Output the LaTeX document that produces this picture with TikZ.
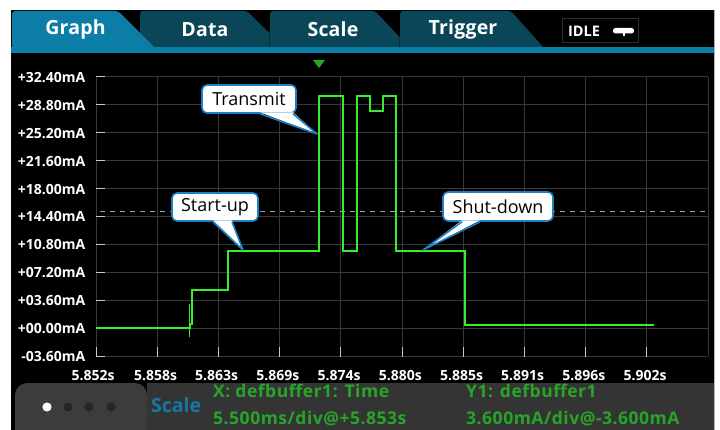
\documentclass[tikz,border=0pt]{standalone}
\usepackage{fontspec}
\setmainfont{Open Sans}
\newfontfamily\infofont[LetterSpace=3]{Open Sans}
\newfontfamily\tabfont[LetterSpace=1]{Open Sans}
\usetikzlibrary{calc}

\definecolor{tabblue}{RGB}{12,125,166}
\definecolor{tabdark}{RGB}{11,70,88}
\definecolor{tabshade}{RGB}{5,42,54}
\definecolor{gridgray}{RGB}{56,56,56}
\definecolor{tickgray}{RGB}{200,200,200}
\definecolor{trace}{RGB}{58,236,48}
\definecolor{infogreen}{RGB}{40,165,40}
\definecolor{scaleblue}{RGB}{22,120,160}
\definecolor{callblue}{RGB}{28,128,200}
\definecolor{panelgray}{RGB}{52,52,52}
\definecolor{panelleft}{RGB}{60,60,60}

\tikzset{
  tabtext/.style={text=white,font=\tabfont\fontsize{19.5}{21}\selectfont\bfseries},
  ylab/.style={anchor=east,text=white,inner sep=0pt,font=\fontsize{14}{15}\selectfont\bfseries},
  xlab/.style={anchor=center,text=white,inner sep=0pt,font=\fontsize{14}{15}\selectfont\bfseries},
  infotext/.style={anchor=base west,inner sep=0pt,text=infogreen,font=\infofont\fontsize{17.5}{19}\selectfont\bfseries},
  callout/.style={draw=callblue,line width=1.6pt,fill=white,rounded corners=5pt,
    minimum height=28pt,inner sep=0pt,font=\fontsize{18}{19}\selectfont},
  tipline/.style={draw=callblue,line width=1.6pt,line join=round},
  gridline/.style={draw=gridgray,line width=1pt},
  tracethin/.style={draw=trace,line width=1.3pt},
  tracethick/.style={draw=trace,line width=2.6pt},
}

\begin{document}
\begin{tikzpicture}[x=1pt,y=-1pt]
\useasboundingbox[fill=white] (0,0) rectangle (720,430);

% screen
\fill[black] (11,10) rectangle (714,430);
\draw[gray!60,line width=0.6pt] (714,10) -- (714,430);

% tab bar: inactive tabs first, active tab on top
\fill[tabdark,rounded corners=3pt] (140,47) -- (140,11) -- (247,11) [sharp corners]-- (283,47) -- cycle;
\fill[tabdark,rounded corners=3pt] (270,47) -- (270,11) -- (375,11) [sharp corners]-- (409,47) -- cycle;
\draw[tabshade,line width=1.2pt] (269.5,31) -- (269.5,47);
\fill[tabdark,rounded corners=3pt] (400,47) -- (400,11) -- (511,11) [sharp corners]-- (543,47) -- cycle;
\draw[tabshade,line width=1.2pt] (399.5,37) -- (399.5,47);
\fill[tabblue,rounded corners=3pt] (12,47) -- (12,11) -- (118,11) [sharp corners]-- (154,47) -- cycle;
\fill[tabblue] (11,47) rectangle (714,53);
\node[tabtext] (tGraph) at (75.5,29.5) {Graph};
\node[tabtext] (tData) at (205,29.5) {Data};
\node[tabtext] (tScale) at (333,29.5) {Scale};
\node[tabtext] (tTrig) at (463,29.5) {Trigger};

% idle indicator
\node[draw=gray!35!black,line width=1pt,fill=black,minimum width=76pt,minimum height=24pt,inner sep=0pt] (idle) at (600,31) {};
\node[text=white,inner sep=0pt,font=\fontsize{14.5}{15}\selectfont\bfseries] (idletxt) at (584,31) {IDLE};
\fill[white,rounded corners=2.5pt] (613,28) rectangle (634,33.5);
\fill[white] (622.5,33) rectangle (624.5,36);

% trigger marker
\fill[infogreen] (313,60) -- (325,60) -- (319,68) -- cycle;

% grid
\foreach \k in {0,...,10} \draw[gridline] (96,77+27.9*\k) -- (708,77+27.9*\k);
\foreach \k in {0,...,10} \draw[gridline] (96+61.2*\k,77) -- (96+61.2*\k,356);
\foreach \k in {0,...,9} \draw[tickgray,line width=1pt] (96+61.2*\k,347) -- (96+61.2*\k,356.5);

% y axis ticks and labels
\foreach \lab [count=\k from 0] in {+32.40mA,+28.80mA,+25.20mA,+21.60mA,+18.00mA,+14.40mA,+10.80mA,+07.20mA,+03.60mA,+00.00mA,-03.60mA}{
  \draw[tickgray,line width=1pt] (96,77+27.9*\k) -- (105,77+27.9*\k);
  \node[ylab] (yl\k) at (85.5,77.5+27.9*\k) {\lab};
}

% x labels
\foreach \xx/\lab [count=\k from 0] in {93/5.852s,155.5/5.858s,216.7/5.863s,277.9/5.869s,339.1/5.874s,400.3/5.880s,461.5/5.885s,522.7/5.891s,583.9/5.896s,645.1/5.902s}{
  \node[xlab] (xl\k) at (\xx,376) {\lab};
}

% threshold line
\draw[gray!75,line width=1pt,dash pattern=on 5pt off 5pt] (100,212) -- (708,212);

% measured current trace
\draw[tracethin] (96,328) -- (190,328) -- (190,324) -- (192,324) -- (192,290) -- (228,290)
  -- (228,251) -- (319,251) -- (319,96) -- (343,96) -- (343,251) -- (357,251) -- (357,96)
  -- (370,96) -- (370,111) -- (383,111) -- (383,96) -- (396,96) -- (396,251) -- (465,251)
  -- (465,325) -- (654,325);
\draw[trace,line width=1pt] (189,304) -- (189,337);
\draw[trace,line width=2pt] (192,324) -- (192,290);
\draw[trace,line width=2pt] (228,290) -- (228,251);
\draw[trace,line width=2pt] (465,251) -- (465,325);
\foreach \a/\b/\y in {96/190/328,192/228/290,228/319/251,319/343/96,343/357/251,357/370/96,370/383/111,383/396/96,396/465/251,465/654/325}
  \draw[tracethick] (\a,\y) -- (\b,\y);
\draw[trace,line width=1pt] (110,327.2) -- (122,327.2);
\draw[trace,line width=1pt] (125,327.4) -- (133,327.4);

% callouts
\node[callout,minimum width=94pt] (cTx) at (249,99) {Transmit};
\coordinate (pTx) at (317,134);
\fill[white] ($(cTx.south)+(11,-1.5)$) -- (pTx) -- ($(cTx.south)+(44,-1.5)$) -- cycle;
\draw[tipline] ($(cTx.south)+(11,0)$) -- (pTx) -- ($(cTx.south)+(44,0)$);

\node[callout,minimum width=86pt] (cSu) at (215,207) {Start-up};
\coordinate (pSu) at (243,250);
\fill[white] ($(cSu.south)+(-2,-1.5)$) -- (pSu) -- ($(cSu.south)+(17,-1.5)$) -- cycle;
\draw[tipline] ($(cSu.south)+(-2,0)$) -- (pSu) -- ($(cSu.south)+(17,0)$);

\node[callout,minimum width=110pt,minimum height=29pt] (cSd) at (498,206.5) {Shut-down};
\coordinate (pSd) at (423,250);
\fill[white] ($(cSd.south)+(-36,-1.5)$) -- (pSd) -- ($(cSd.south)+(-18,-1.5)$) -- cycle;
\draw[tipline] ($(cSd.south)+(-36,0)$) -- (pSd) -- ($(cSd.south)+(-18,0)$);

% bottom status panel
\fill[panelgray] (147,383) rectangle (714,430);
\fill[panelleft,rounded corners=12pt] (15,430) -- (15,383) -- (147,383) [sharp corners]-- (147,430) -- cycle;
\draw[black!80,line width=1pt] (147,383) -- (147,430);
\foreach \xx [count=\k] in {47,68,89,111}{
  \fill[black!85] (\xx,407) circle (4.6pt);
}
\fill[white] (47,407) circle (4.6pt);
\node[anchor=west,inner sep=0pt,text=scaleblue,font=\fontsize{19.5}{20}\selectfont\bfseries] (sc) at (151,405) {Scale};
\node[infotext] (ix1) at (213,397) {X: defbuffer1: Time};
\node[infotext] (ix2) at (213,424) {5.500ms/div@+5.853s};
\node[infotext] (iy1) at (466,397) {Y1: defbuffer1};
\node[infotext] (iy2) at (466,424) {3.600mA/div@-3.600mA};
\end{tikzpicture}
\end{document}
